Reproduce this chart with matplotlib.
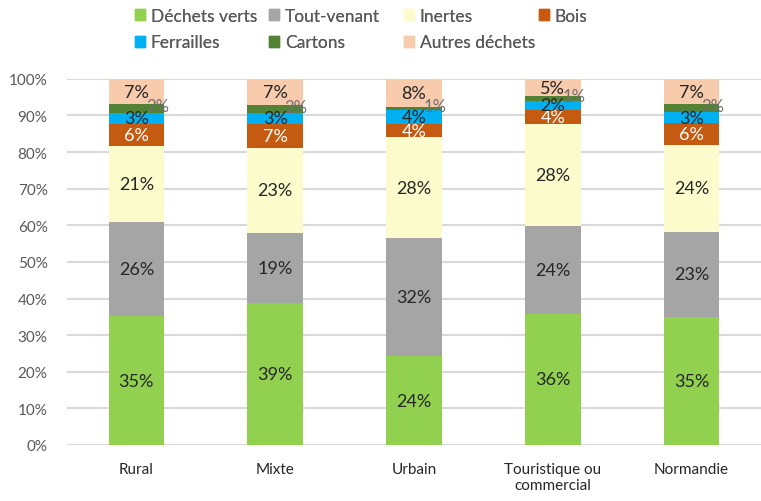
import matplotlib.pyplot as plt
from matplotlib.patches import Patch
import numpy as np

plt.rcParams['font.family'] = ['Lato', 'DejaVu Sans']

categories = ['Rural', 'Mixte', 'Urbain', 'Touristique ou\ncommercial', 'Normandie']
series_names = ['Déchets verts', 'Tout-venant', 'Inertes', 'Bois',
                'Ferrailles', 'Cartons', 'Autres déchets']

# share of each waste type (%) per category
dechets_verts = [35.2, 38.8, 24.2, 35.8, 35.0]
tout_venant = [25.6, 19.2, 32.2, 24.0, 23.2]
inertes = [20.8, 23.0, 27.6, 27.8, 23.8]
bois = [6.0, 6.6, 3.6, 4.0, 5.8]
ferrailles = [3.2, 3.2, 4.0, 2.4, 3.2]
cartons = [2.2, 2.0, 0.8, 1.2, 2.0]
autres = [7.0, 7.2, 7.6, 4.8, 7.0]

colors = ['#92D050', '#A5A5A5', '#FCFBCC', '#C55A11', '#00B0F0', '#548235', '#F8CBAD']
label_colors = ['#262626', '#262626', '#262626', 'white', '#262626', '#6F6F6F', '#262626']

data = [dechets_verts, tout_venant, inertes, bois, ferrailles, cartons, autres]

fig = plt.figure(figsize=(7.61, 5.02), dpi=100)
ax = fig.add_axes([0.088, 0.1116, 0.912, 0.7294])

x = np.arange(len(categories))
width = 0.40
bottom = np.zeros(len(categories))
for name, vals, col, lcol in zip(series_names, data, colors, label_colors):
    vals = np.array(vals)
    ax.bar(x, vals, width, bottom=bottom, color=col, label=name, zorder=3)
    for xi, b, v in zip(x, bottom, vals):
        txt = '%d%%' % int(v + 0.5)
        if name == 'Cartons':
            # small labels sit on the right edge of the bar
            ax.text(xi + 0.15, b + v / 2 + 0.6, txt, ha='center', va='center',
                    color=lcol, fontsize=12, zorder=4)
        else:
            ax.text(xi, b + v / 2, txt, ha='center', va='center',
                    color=lcol, fontsize=13, zorder=4)
    bottom += vals

ax.set_xlim(-0.5, len(categories) - 0.5)
ax.set_ylim(0, 100)
ax.set_yticks(np.arange(0, 101, 10))
ax.set_yticklabels(['%d%%' % v for v in range(0, 101, 10)])
ax.set_xticks(x)
ax.set_xticklabels(categories)
ax.yaxis.grid(True, color='#D9D9D9', lw=1.5, zorder=0)
ax.set_axisbelow(True)
for s in ax.spines.values():
    s.set_visible(False)
ax.tick_params(axis='both', length=0, labelsize=11, colors='#595959')
ax.tick_params(axis='y', pad=14)
ax.tick_params(axis='x', labelcolor='#262626', pad=12)

# legend: four columns placed at fixed positions, filled row by row
handles = [Patch(color=c) for c in colors]
columns = [[0, 4], [1, 5], [2, 6], [3]]
col_x = [135, 269, 404, 539]
for idx, cx in zip(columns, col_x):
    leg = fig.legend([handles[i] for i in idx], [series_names[i] for i in idx],
                     loc='upper left', bbox_to_anchor=(cx / 761, 1 - 9 / 502),
                     frameon=False, fontsize=12.5, labelcolor='#595959',
                     handlelength=0.6, handleheight=0.6, handletextpad=0.3,
                     labelspacing=0.6, borderpad=0, borderaxespad=0)
    fig.add_artist(leg)

fig.savefig('out.png', dpi=100)
